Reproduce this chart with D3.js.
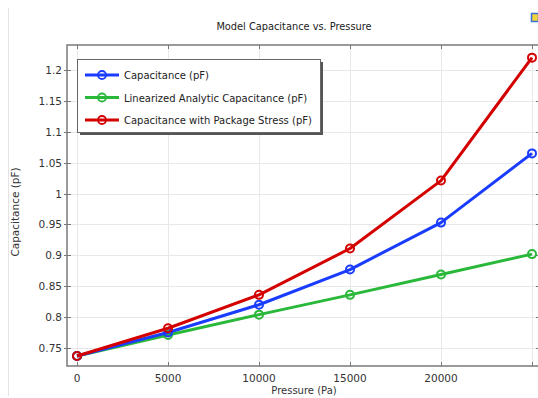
<!DOCTYPE html>
<html>
<head>
<meta charset="utf-8">
<script src="https://cdn.jsdelivr.net/npm/d3@7"></script>
<style>
  html, body { margin: 0; padding: 0; background: #fff; overflow: hidden; }
  svg { display: block; font-family: "DejaVu Sans", sans-serif; }
</style>
</head>
<body>
<div id="chart"></div>
<script>
// data
const pressure = [0, 5000, 10000, 15000, 20000, 25000];
const capacitance = [0.737, 0.775, 0.820, 0.877, 0.953, 1.065];
const linearized = [0.737, 0.771, 0.804, 0.836, 0.869, 0.902];
const packageStress = [0.737, 0.782, 0.836, 0.911, 1.021, 1.220];
const seriesNames = [
  'Capacitance (pF)',
  'Linearized Analytic Capacitance (pF)',
  'Capacitance with Package Stress (pF)'
];
const seriesColors = ['#1a3cff', '#2ab83a', '#d40000'];
const xTicks = [0, 5000, 10000, 15000, 20000];
const xGrid = [0, 5000, 10000, 15000, 20000, 25000];
const yTicks = [0.75, 0.8, 0.85, 0.9, 0.95, 1, 1.05, 1.1, 1.15, 1.2];

const width = 538, height = 398;
const frame = { left: 67, right: 540, top: 45, bottom: 366 };

const svg = d3.select('#chart').append('svg')
  .attr('width', width)
  .attr('height', height);

const x = d3.scaleLinear().domain([0, 25000]).range([77, 532]);
const y = d3.scaleLinear().domain([0.75, 1.2]).range([348, 70]);

// faint left separator line
svg.append('line')
  .attr('x1', 8.5).attr('x2', 8.5)
  .attr('y1', 8).attr('y2', 396)
  .attr('stroke', '#e4e4e4');

// small icon at top right
svg.append('rect')
  .attr('x', 531.5).attr('y', 13.5)
  .attr('width', 7).attr('height', 8)
  .attr('fill', '#f2d43a')
  .attr('stroke', '#3a6fd8')
  .attr('stroke-width', 1.5);

// title
svg.append('text')
  .attr('x', 294).attr('y', 30)
  .attr('text-anchor', 'middle')
  .style('font-size', '9.8px')
  .attr('fill', '#222')
  .text('Model Capacitance vs. Pressure');

// grid
const grid = svg.append('g').attr('stroke', '#e8e8e8').attr('stroke-width', 1);
grid.selectAll('line.vx').data(xGrid).enter().append('line')
  .attr('x1', d => Math.round(x(d)) + 0.5).attr('x2', d => Math.round(x(d)) + 0.5)
  .attr('y1', frame.top).attr('y2', frame.bottom);
grid.selectAll('line.hy').data(yTicks).enter().append('line')
  .attr('y1', d => Math.round(y(d)) + 0.5).attr('y2', d => Math.round(y(d)) + 0.5)
  .attr('x1', frame.left).attr('x2', frame.right);

// frame
svg.append('rect')
  .attr('x', frame.left).attr('y', frame.top)
  .attr('width', frame.right - frame.left)
  .attr('height', frame.bottom - frame.top)
  .attr('fill', 'none')
  .attr('stroke', '#7a7a7a')
  .attr('stroke-width', 1.5);

// ticks: inside on top/bottom/right, crossing on left
const ticks = svg.append('g').attr('stroke', '#777').attr('stroke-width', 1);
xGrid.forEach(v => {
  const px = Math.round(x(v)) + 0.5;
  ticks.append('line').attr('x1', px).attr('x2', px).attr('y1', frame.bottom).attr('y2', frame.bottom - 4);
  ticks.append('line').attr('x1', px).attr('x2', px).attr('y1', frame.top).attr('y2', frame.top + 4);
});
yTicks.forEach(v => {
  const py = Math.round(y(v)) + 0.5;
  ticks.append('line').attr('x1', frame.left - 3).attr('x2', frame.left + 4).attr('y1', py).attr('y2', py);
  ticks.append('line').attr('x1', frame.right - 4).attr('x2', frame.right).attr('y1', py).attr('y2', py);
});

// tick labels
svg.append('g').selectAll('text').data(xTicks).enter().append('text')
  .attr('x', d => x(d))
  .attr('y', frame.bottom + 16)
  .attr('text-anchor', 'middle')
  .style('font-size', '10.5px')
  .attr('fill', '#333')
  .text(d => d);

svg.append('g').selectAll('text').data(yTicks).enter().append('text')
  .attr('x', frame.left - 5)
  .attr('y', d => y(d) + 4)
  .attr('text-anchor', 'end')
  .style('font-size', '10.5px')
  .attr('fill', '#333')
  .text(d => d3.format('~g')(d));

// axis titles
svg.append('text')
  .attr('x', 304).attr('y', 394)
  .attr('text-anchor', 'middle')
  .style('font-size', '10px')
  .attr('fill', '#333')
  .text('Pressure (Pa)');

svg.append('text')
  .attr('transform', 'translate(19,212) rotate(-90)')
  .attr('text-anchor', 'middle')
  .style('font-size', '10.5px')
  .attr('fill', '#333')
  .text('Capacitance (pF)');

// series
const allSeries = [capacitance, linearized, packageStress];
const line = d3.line()
  .x((d, i) => x(pressure[i]))
  .y(d => y(d));

// draw green first, then blue, then red on top
const order = [1, 0, 2];
const plot = svg.append('g');
order.forEach(k => {
  const vals = allSeries[k];
  plot.append('path')
    .datum(vals)
    .attr('d', line)
    .attr('fill', 'none')
    .attr('stroke', seriesColors[k])
    .attr('stroke-width', 3)
    .attr('stroke-linejoin', 'round');
  plot.selectAll('circle.s' + k)
    .data(vals)
    .enter().append('circle')
    .attr('class', 's' + k)
    .attr('cx', (d, i) => x(pressure[i]))
    .attr('cy', d => y(d))
    .attr('r', 4)
    .attr('fill', 'none')
    .attr('stroke', seriesColors[k])
    .attr('stroke-width', 2);
});

// legend
const legend = svg.append('g');
legend.append('rect')
  .attr('x', 80).attr('y', 62)
  .attr('width', 243).attr('height', 73)
  .attr('fill', '#555');
legend.append('rect')
  .attr('x', 77.5).attr('y', 59.5)
  .attr('width', 243).attr('height', 73)
  .attr('fill', '#fff')
  .attr('stroke', '#666')
  .attr('stroke-width', 1);

const rows = legend.selectAll('g.row')
  .data(seriesNames)
  .enter().append('g')
  .attr('class', 'row')
  .attr('transform', (d, i) => `translate(0,${75 + i * 22.5})`);
rows.append('line')
  .attr('x1', 85).attr('x2', 119)
  .attr('y1', 0).attr('y2', 0)
  .attr('stroke', (d, i) => seriesColors[i])
  .attr('stroke-width', 3);
rows.append('circle')
  .attr('cx', 102).attr('cy', 0).attr('r', 4)
  .attr('fill', 'none')
  .attr('stroke', (d, i) => seriesColors[i])
  .attr('stroke-width', 1.8);
rows.append('text')
  .attr('x', 124).attr('y', 4)
  .style('font-size', '10px')
  .attr('fill', '#222')
  .text(d => d);
</script>
</body>
</html>
